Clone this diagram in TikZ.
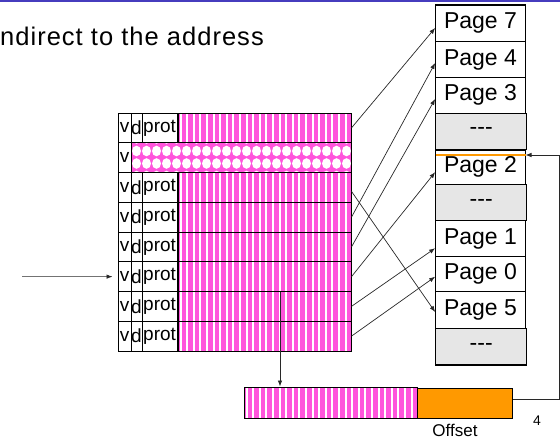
\documentclass[tikz,border=0pt]{standalone}
\usepackage{fontspec}
\setmainfont{Liberation Sans}
\newfontfamily\titlefont[LetterSpace=4]{Liberation Sans}
\usetikzlibrary{arrows.meta,calc}

\definecolor{stripepink}{RGB}{255,85,220}
\definecolor{pageorange}{RGB}{255,153,0}
\definecolor{slotgray}{RGB}{230,230,230}
\definecolor{rulerblue}{RGB}{70,60,190}
\definecolor{wirec}{RGB}{40,40,40}

% pink area with white vertical stripes: #1,#2 top-left, #3,#4 bottom-right
\newcommand{\stripefill}[4]{%
  \begin{scope}
    \clip (#1,#2) rectangle (#3,#4);
    \fill[stripepink] (#1,#2) rectangle (#3,#4);
    \foreach \sk in {0,...,30}
      \draw[white, line width=2pt] ({#1+2.5+6.6*\sk},#2) -- ({#1+2.5+6.6*\sk},#4);
  \end{scope}}

\begin{document}
\begin{tikzpicture}[x=1pt,y=-1pt,
  wire/.style={draw=wirec, line width=0.7pt},
  tip/.style={-{Latex[length=6pt,width=4.5pt]}},
  pagebox/.style={draw=black, line width=1.1pt, fill=white, inner sep=0pt,
    minimum width=89.6pt, font=\fontsize{23}{25}\selectfont},
  gapbox/.style={pagebox, fill=slotgray, minimum width=91pt},
  rowbox/.style={draw=black, line width=1pt, minimum width=233pt,
    minimum height=29.75pt, inner sep=0pt},
  cell/.style={font=\fontsize{19}{20}\selectfont, inner sep=0pt}]

\useasboundingbox (0,0) rectangle (560,440);

% top rule
\draw[rulerblue, line width=1.6pt] (0,1) -- (560,1);

% heading
\node[anchor=base east, inner sep=0pt, font=\titlefont\fontsize{25.5}{29}\selectfont]
  (title) at (264,45) {ndirect to the address};

% page table: frame-number fields
\stripefill{178}{113}{351}{351}
% invalid entry: patterned field
\begin{scope}
  \clip (131,142.75) rectangle (351,172.5);
  \fill[stripepink] (131,142.75) rectangle (351,172.5);
  \foreach \ci in {0,...,23}
    \foreach \cj in {0,...,3}
      \fill[white] ({136.5+10*\ci},{138.5+12.5*\cj}) ellipse[x radius=4.5pt, y radius=5.3pt];
\end{scope}

% table rows
\foreach \k in {1,...,8}
  \node[rowbox] (r\k) at (234.5,{113+29.75*(\k-0.5)}) {};

% column rules
\draw[black, line width=1pt] (131,113) -- (131,351);
\draw[black, line width=1pt] (142,113) -- (142,142.75) (142,172.5) -- (142,351);
\draw[black, line width=1.5pt] (178,113) -- (178,142.75) (178,172.5) -- (178,351);

% field labels
\node[cell] (v2) at (124.5,{113+29.75*1.5}) {v};
\foreach \k in {1,3,4,5,6,7,8} {
  \node[cell] (v\k) at (124.5,{113+29.75*(\k-0.5)}) {v};
  \node[cell] (d\k) at (136.5,{113+29.75*(\k-0.5)}) {d};
  \node[cell, anchor=west] (pr\k) at (143,{113+29.75*(\k-0.5)}) {prot};
}

% physical memory frames
\node[pagebox, minimum height=36.7pt] (p7) at (480.5,23.35) {Page 7};
\node[pagebox, minimum height=35.6pt] (p4) at (480.5,59.5) {Page 4};
\node[pagebox, minimum height=36pt] (p3) at (480.5,95.3) {Page 3};
\node[gapbox, minimum height=36pt] (g1) at (481.2,131.3) {-{}-{}-};
\node[pagebox, minimum height=34.3pt] (p2) at (480.5,167.15) {Page 2};
\node[gapbox, minimum height=36.4pt] (g2) at (481.2,202.5) {-{}-{}-};
\node[pagebox, minimum height=36pt] (p1) at (480.5,238.7) {Page 1};
\node[pagebox, minimum height=35pt] (p0) at (480.5,274.2) {Page 0};
\node[pagebox, minimum height=36.6pt] (p5) at (480.5,310) {Page 5};
\node[gapbox, minimum height=36.7pt] (g3) at (481.2,346.65) {-{}-{}-};

% addressed byte within page 2
\coordinate (slot) at (525.5,155);
\draw[pageorange, line width=2pt] (435.7,155) -- (slot);

% table entries to frames
\draw[wire,tip] (r1.east) -- ([yshift=-4.6pt]p7.west);
\draw[wire,tip] ([yshift=-4pt]r3.east) -- ([yshift=-2pt]p5.west);
\draw[wire,tip] (r4.east) -- ([yshift=-3.5pt]p4.west);
\draw[wire,tip] (r5.east) -- ([yshift=-3.7pt]p3.west);
\draw[wire,tip] (r6.east) -- ([yshift=-5pt]p2.west);
\draw[wire,tip] (r7.east) -- ([yshift=-9.5pt]p1.west);
\draw[wire,tip] (r8.east) -- ([yshift=-2.5pt]p0.west);

% virtual address: page number and offset
\stripefill{244}{387}{417}{418}
\node[draw, line width=1pt, minimum width=173pt, minimum height=31pt, inner sep=0pt]
  (bar) at (330.5,402.5) {};
\node[draw, line width=1pt, fill=pageorange, minimum width=95.7pt, minimum height=30pt,
  inner sep=0pt] (off) at (465,403) {};
\node[font=\fontsize{17}{19}\selectfont, inner sep=0pt] (offlbl) at (455,430) {Offset};
\node[font=\fontsize{14}{16}\selectfont, inner sep=0pt] (pgno) at (537,421) {4};

% lookup arrows
\coordinate (feed) at (22,276.6);
\draw[wire,tip] (feed) -- ([xshift=-5pt]r6.west);
\coordinate (vpn) at (280,291.5);
\draw[wire,tip] (vpn) -- (vpn |- bar.north);
\coordinate (rail) at (559,0);
\draw[wire,tip] ([yshift=4pt]off.east) -| (rail |- slot) -- (slot);

\end{tikzpicture}
\end{document}
